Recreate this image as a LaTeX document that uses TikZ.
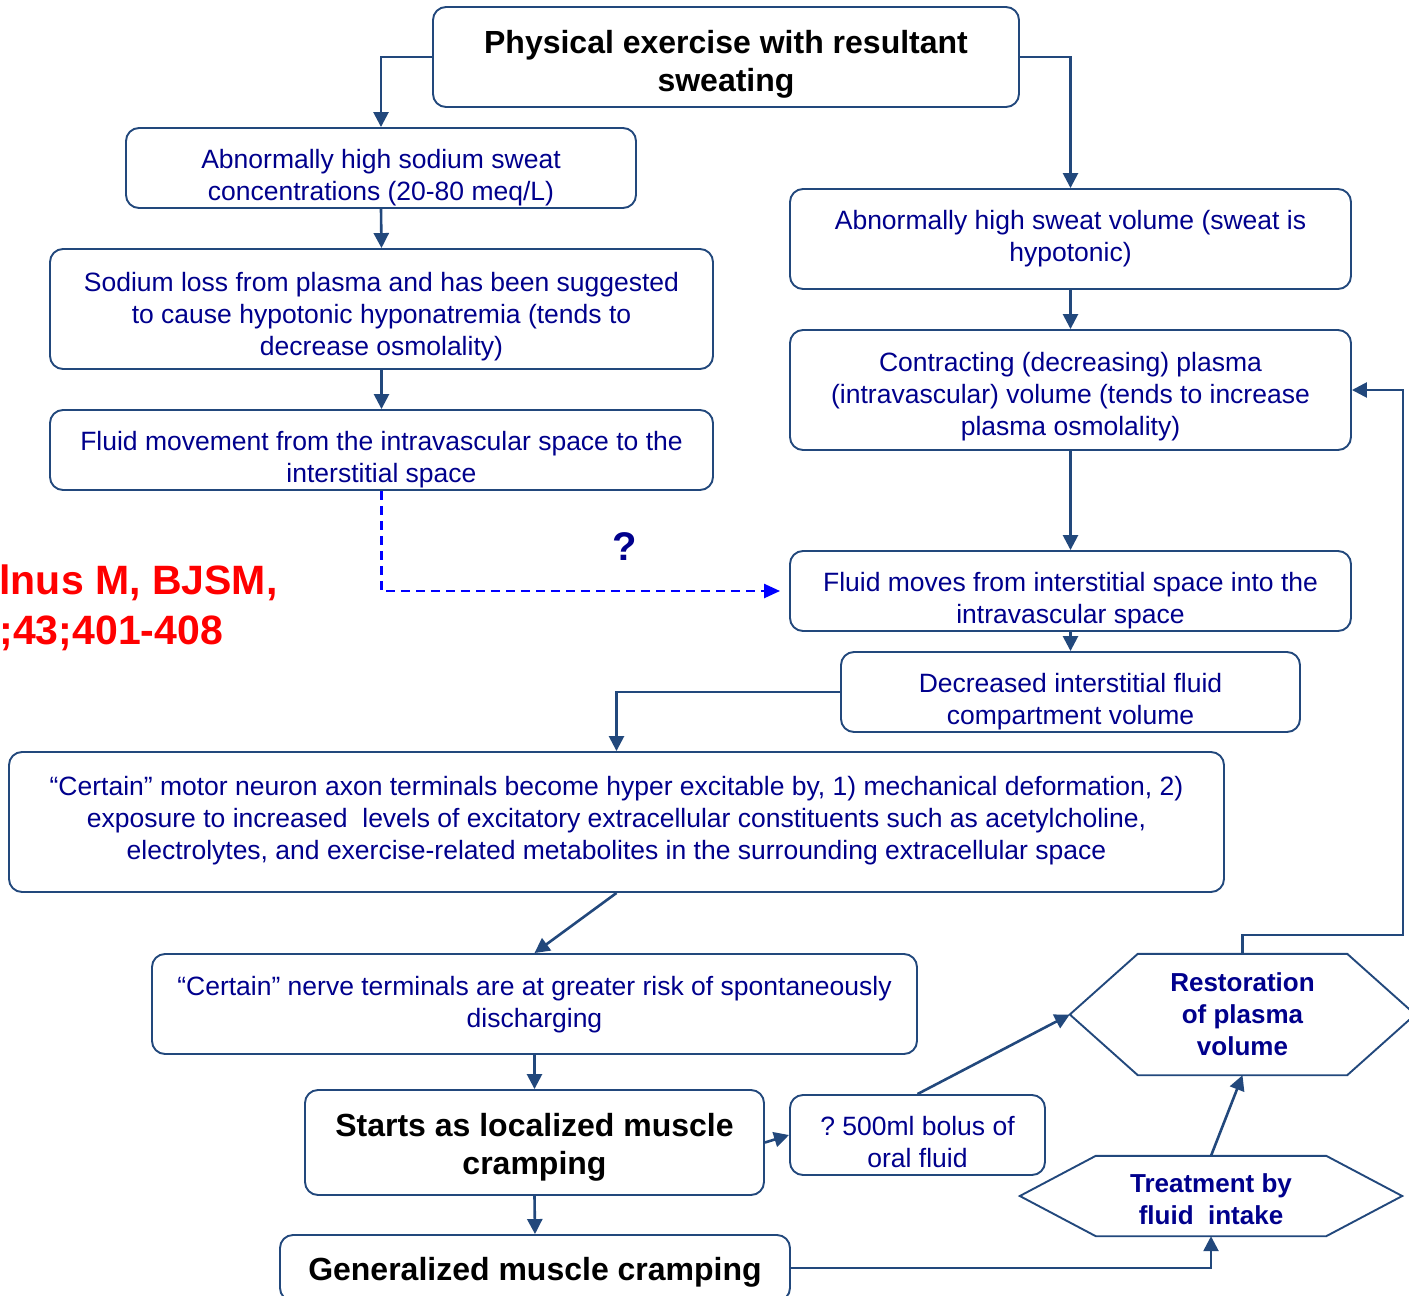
\documentclass[tikz,border=0pt]{standalone}
\usepackage{fontspec}
\setmainfont{Liberation Sans}
\frenchspacing
\usetikzlibrary{arrows.meta,calc}
\definecolor{linecol}{RGB}{34,72,124}
\definecolor{txtblue}{RGB}{0,0,140}
\begin{document}
\begin{tikzpicture}[x=1pt,y=-1pt,
  box/.style={draw=linecol,line width=1.9pt,rounded corners=13pt,inner sep=0pt},
  txt/.style={inner sep=0pt,align=center,text=txtblue,font=\fontsize{26.5}{32}\selectfont},
  btxt/.style={inner sep=0pt,align=center,text=black,font=\fontsize{32}{38}\selectfont\bfseries},
  hexa/.style={inner sep=0pt,align=center,text=txtblue,font=\fontsize{26}{32}\selectfont\bfseries},
  hexline/.style={draw=linecol,line width=1.9pt},
  arr/.style={draw=linecol,line width=2.6pt,-{Triangle[length=15pt,width=15pt]}},
  dasharr/.style={draw=blue,line width=2.4pt,dash pattern=on 9pt off 6pt,-{Triangle[length=16pt,width=14pt]}}]
\useasboundingbox (0,0) rectangle (1409,1296);
\node[box,minimum width=586pt,minimum height=100pt,label={[btxt,yshift=-7pt]center:{Physical exercise with resultant\\sweating}}] (top) at (726,57) {};
\node[box,minimum width=510pt,minimum height=80pt,label={[txt,yshift=-10pt]center:{Abnormally high sodium sweat\\concentrations (20-80 meq/L)}}] (sod) at (381,168) {};
\node[box,minimum width=663pt,minimum height=120pt,label={[txt,yshift=-8pt]center:{Sodium loss from plasma and has been suggested\\to cause hypotonic hyponatremia (tends to\\decrease osmolality)}}] (loss) at (381.5,309) {};
\node[box,minimum width=663pt,minimum height=80pt,label={[txt,yshift=-10pt]center:{Fluid movement from the intravascular space to the\\interstitial space}}] (move) at (381.5,450) {};
\node[box,minimum width=561pt,minimum height=100pt,label={[txt]center:{Abnormally high sweat volume (sweat is\\hypotonic)}}] (vol) at (1070.5,239) {};
\node[box,minimum width=561pt,minimum height=120pt,label={[txt,yshift=-7pt]center:{Contracting (decreasing) plasma\\(intravascular) volume (tends to increase\\plasma osmolality)}}] (contr) at (1070.5,390) {};
\node[box,minimum width=561pt,minimum height=80pt,label={[txt,yshift=-10pt]center:{Fluid moves from interstitial space into the\\intravascular space}}] (moves) at (1070.5,591) {};
\node[box,minimum width=459pt,minimum height=80pt,label={[txt,yshift=-10pt]center:{Decreased interstitial fluid\\compartment volume}}] (decr) at (1070.5,692) {};
\node[box,minimum width=1215pt,minimum height=140pt,label={[txt,yshift=1pt]center:{``Certain'' motor neuron axon terminals become hyper excitable by, 1) mechanical deformation, 2)\\exposure to increased\ \ levels of excitatory extracellular constituents such as acetylcholine,\\electrolytes, and exercise-related metabolites in the surrounding extracellular space}}] (motor) at (616.5,822) {};
\node[box,minimum width=765pt,minimum height=100pt,label={[txt,yshift=-1pt]center:{``Certain'' nerve terminals are at greater risk of spontaneously\\discharging}}] (nerve) at (534.5,1004) {};
\node[box,minimum width=459pt,minimum height=105pt,label={[btxt,yshift=-5pt]center:{Starts as localized muscle\\cramping}}] (starts) at (534.5,1142.5) {};
\node[box,minimum width=510pt,minimum height=66pt,label={[btxt,yshift=-4pt]center:{Generalized muscle cramping}}] (gen) at (535,1268) {};
\node[box,minimum width=255pt,minimum height=80pt,label={[txt,yshift=-7pt]center:{? 500ml bolus of\\oral fluid}}] (bolus) at (917.5,1135) {};
\node[hexa,minimum width=209pt,minimum height=121pt] (rest) at (1242.5,1014.5) {Restoration\\of plasma\\volume};
\node[hexa,minimum width=230pt,minimum height=80pt,label={[hexa,yshift=-3pt]center:{Treatment by\\fluid\ \ intake}}] (treat) at (1211,1196) {};
\coordinate (resttip) at ($(rest.west)+(-68,0)$);
\coordinate (bend) at (1403,935);
\draw[hexline] (rest.north west) -- (rest.north east) -- ($(rest.east)+(68,0)$) -- (rest.south east) -- (rest.south west) -- (resttip) -- cycle;
\draw[hexline] (treat.north west) -- (treat.north east) -- ($(treat.east)+(76,0)$) -- (treat.south east) -- (treat.south west) -- ($(treat.west)+(-76,0)$) -- cycle;
\node[anchor=west,align=left,text=red,font=\fontsize{41}{50}\selectfont\bfseries] (ref) at (-4,608) {lnus M, BJSM,\\;43;401-408};
\node[text=txtblue,font=\fontsize{40}{48}\selectfont\bfseries] (qm) at (625,547) {?};
\draw[arr] (top.west) -| (sod.north);
\draw[arr] (top.east) -| (vol.north);
\draw[arr] (sod.south) -- (loss.north);
\draw[arr] (loss.south) -- (move.north);
\draw[dasharr,shorten >=9pt] (move.south) |- (moves.west);
\draw[arr] (vol.south) -- (contr.north);
\draw[arr] (contr.south) -- (moves.north);
\draw[arr] (moves.south) -- (decr.north);
\draw[arr] (decr.west) -| (motor.north);
\draw[arr] (motor.south) -- (nerve.north);
\draw[arr] (nerve.south) -- (starts.north);
\draw[arr] (starts.east) -- (bolus.west);
\draw[arr] (starts.south) -- (gen.north);
\draw[arr] (bolus.north) -- (resttip);
\draw[arr] (gen.east) -| (treat.south);
\draw[arr] (treat.north) -- (rest.south);
\draw[arr] (rest.north) |- (bend) |- (contr.east);
\end{tikzpicture}
\end{document}
